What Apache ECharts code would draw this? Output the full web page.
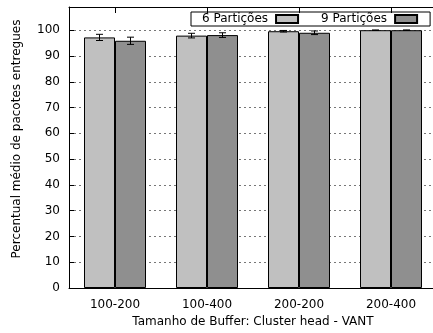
<!DOCTYPE html>
<html>
<head>
<meta charset="utf-8">
<script src="https://cdn.jsdelivr.net/npm/echarts@6/dist/echarts.min.js"></script>
<style>
  html, body { margin: 0; padding: 0; background: #fff; overflow: hidden; }
  /* the plot frame continues a few pixels past the visible right edge */
  #chart { width: 440px; height: 333px; }
</style>
</head>
<body>
<div id="chart"></div>
<script>
// Buffer size pairs (cluster head - UAV)
const categories = ['100-200', '100-400', '200-200', '200-400'];

// Mean delivered packets (%) and error bar half-widths
const series6 = [97.2, 97.9, 99.6, 100.0];
const err6 = [1.2, 0.9, 0.3, 0.1];
const series9 = [95.9, 98.1, 99.0, 100.0];
const err9 = [1.4, 0.9, 0.7, 0.1];

const names = ['6 Partições', '9 Partições'];
const yTicks = [0, 10, 20, 30, 40, 50, 60, 70, 80, 90, 100];
const yTitle = 'Percentual médio de pacotes entregues';
const xTitle = 'Tamanho de Buffer: Cluster head - VANT';

const FONT = 'DejaVu Sans';
const BAR_W = 31;

function errorItems(values, errs) {
  return values.map((v, i) => [i, v, errs[i]]);
}

function errorRenderer(offset) {
  return function (params, api) {
    const cx = api.coord([api.value(0), 0])[0] + offset;
    const top = api.coord([api.value(0), api.value(1) + api.value(2)])[1];
    const bot = api.coord([api.value(0), api.value(1) - api.value(2)])[1];
    const cap = 3.5;
    const style = { stroke: '#000', lineWidth: 1 };
    return {
      type: 'group',
      children: [
        { type: 'line', shape: { x1: cx, y1: top, x2: cx, y2: bot }, style },
        { type: 'line', shape: { x1: cx - cap, y1: top, x2: cx + cap, y2: top }, style },
        { type: 'line', shape: { x1: cx - cap, y1: bot, x2: cx + cap, y2: bot }, style }
      ]
    };
  };
}

const chart = echarts.init(document.getElementById('chart'), null, { renderer: 'canvas' });

chart.setOption({
  animation: false,
  textStyle: { fontFamily: FONT, fontSize: 12, color: '#000' },
  grid: { left: 69, top: 7, width: 368, height: 282 },
  graphic: [
    {
      type: 'text',
      x: 17, y: 139,
      rotation: Math.PI / 2,
      style: {
        text: yTitle, fill: '#000',
        font: '12px "DejaVu Sans"',
        textAlign: 'center', textVerticalAlign: 'middle'
      }
    }
  ],
  legend: {
    data: names,
    left: 191, top: 12,
    align: 'right',
    icon: 'rect',
    itemWidth: 22, itemHeight: 8, itemGap: 22,
    padding: [1, 12, 1, 11],
    borderColor: '#000', borderWidth: 1,
    textStyle: { fontFamily: FONT, fontSize: 12, color: '#000', padding: [0, 3, 0, 0] },
    selectedMode: false
  },
  xAxis: [
    {
      type: 'category',
      data: categories,
      position: 'bottom',
      name: xTitle,
      nameLocation: 'middle',
      nameGap: 28,
      nameTextStyle: { fontFamily: FONT, fontSize: 12, color: '#000' },
      axisLine: { show: true, lineStyle: { color: '#000', width: 1 } },
      axisTick: { show: false },
      axisLabel: { fontFamily: FONT, fontSize: 12, color: '#000', margin: 11 },
      splitLine: { show: false }
    },
    {
      type: 'category',
      data: categories,
      position: 'top',
      axisLine: { show: true, lineStyle: { color: '#000', width: 1 } },
      axisTick: { show: true, inside: true, alignWithLabel: true, length: 6, lineStyle: { color: '#000' } },
      axisLabel: { show: false },
      splitLine: { show: false }
    }
  ],
  yAxis: {
    type: 'value',
    min: 0, max: 109, interval: 10,
    axisLine: { show: true, lineStyle: { color: '#000', width: 1 } },
    axisTick: { show: true, inside: true, length: 5, lineStyle: { color: '#000' } },
    axisLabel: {
      fontFamily: FONT, fontSize: 12, color: '#000', margin: 9,
      formatter: v => (yTicks.indexOf(v) >= 0 ? String(v) : '')
    },
    splitLine: { show: true, lineStyle: { color: '#777', width: 1, type: [2, 3] } }
  },
  series: [
    {
      name: names[0], type: 'bar', data: series6,
      barWidth: BAR_W, barGap: '0%',
      itemStyle: { color: '#c0c0c0', borderColor: '#000', borderWidth: 1 }
    },
    {
      name: names[1], type: 'bar', data: series9,
      barWidth: BAR_W, barGap: '0%',
      itemStyle: { color: '#8f8f8f', borderColor: '#000', borderWidth: 1 }
    },
    {
      type: 'custom', data: errorItems(series6, err6),
      renderItem: errorRenderer(-BAR_W / 2), z: 5, silent: true
    },
    {
      type: 'custom', data: errorItems(series9, err9),
      renderItem: errorRenderer(BAR_W / 2), z: 5, silent: true
    }
  ]
});
</script>
</body>
</html>
